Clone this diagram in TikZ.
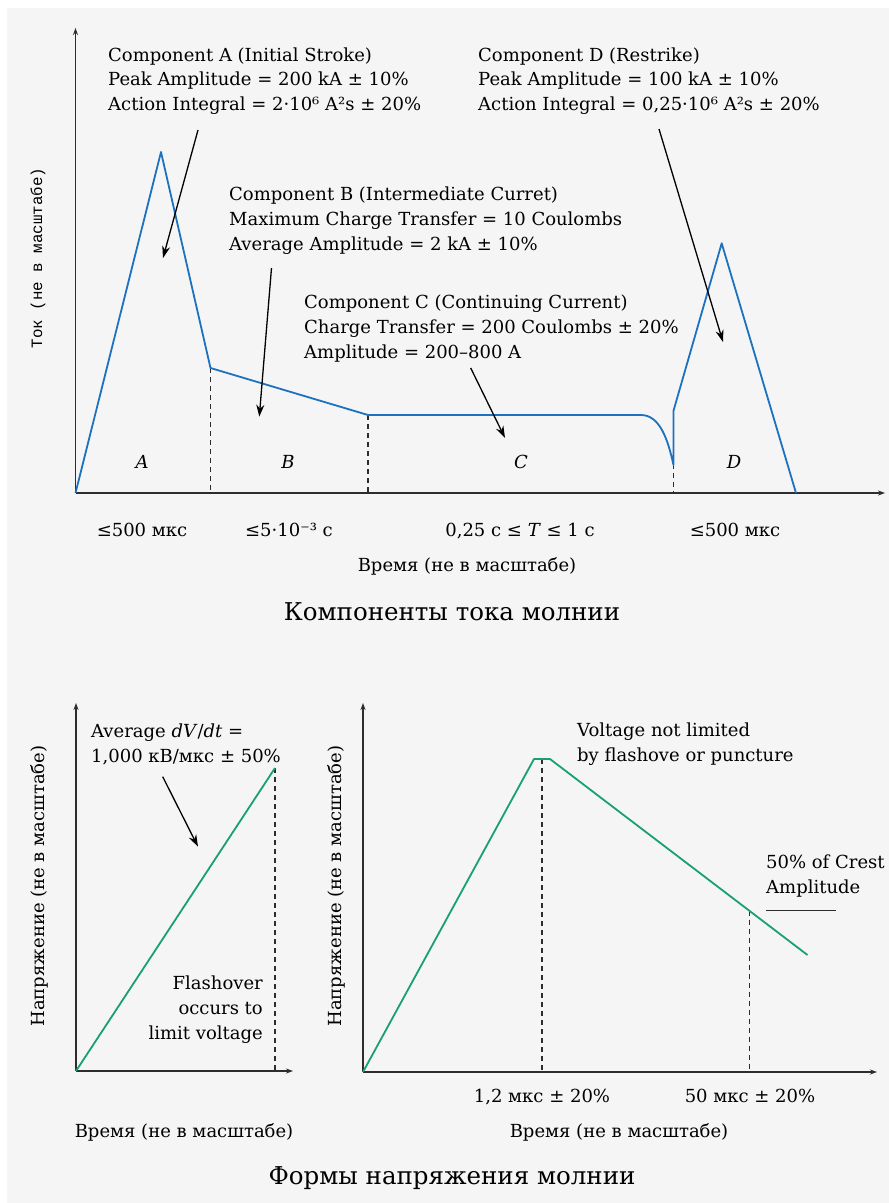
\documentclass[tikz,border=0pt]{standalone}
\usepackage{fontspec}
\setmainfont{DejaVu Serif}
\newfontfamily\monofnt{Liberation Mono}
\usetikzlibrary{arrows.meta}
\definecolor{bgc}{RGB}{245,245,245}
\definecolor{cblue}{RGB}{28,114,190}
\definecolor{cgreen}{RGB}{24,160,112}
\definecolor{axc}{RGB}{45,45,45}
\begin{document}
\begin{tikzpicture}[x=1pt,y=-1pt,
  lbl/.style={font=\fontsize{18}{20}\selectfont, inner sep=0pt, anchor=base west},
  lblc/.style={font=\fontsize{18}{20}\selectfont, inner sep=0pt, anchor=base},
  lblr/.style={font=\fontsize{18}{20}\selectfont, inner sep=0pt, anchor=base east},
  seclbl/.style={font=\fontsize{18}{20}\selectfont\itshape, inner sep=0pt},
  ttl/.style={font=\fontsize{24.5}{28}\selectfont, inner sep=0pt, anchor=base},
  axis/.style={draw=axc, line width=1.4pt, -{Stealth[length=7pt,width=5pt]}},
  bcurve/.style={draw=cblue, line width=1.8pt, line join=round},
  gcurve/.style={draw=cgreen, line width=1.8pt, line join=round},
  guide/.style={draw=axc, line width=1.1pt, dash pattern=on 5pt off 4pt},
  ann/.style={draw=black, line width=1.3pt, -{Stealth[length=12pt,width=8pt]}}]
\useasboundingbox (0,0) rectangle (889,1203);
\fill[white] (0,0) rectangle (889,1203);
\fill[bgc] (7,8) rectangle (889,1203);

% ===== Top chart =====
\draw[guide] (210.5,368) -- (210.5,493);
\draw[guide] (368,415) -- (368,493);
\draw[guide] (673.5,410) -- (673.5,493);
\draw[axis] (75.5,493) -- (75.5,28);
\draw[axis] (75.5,493) -- (885,493);
\draw[bcurve] (75.5,493) -- (161,152) -- (210.5,368) -- (368,415) -- (641,415)
  .. controls (660,415) and (668,440) .. (673.5,465) -- (673.5,410.7) -- (721.7,243.3) -- (796,493);

\node[lbl] (a1) at (108,61) {Component A (Initial Stroke)};
\node[lbl] (a2) at (108,85.5) {Peak Amplitude = 200 kA ± 10\%};
\node[lbl] (a3) at (108,110) {Action Integral = 2·10⁶ A²s ± 20\%};

\node[lbl] (b1) at (229,200) {Component B (Intermediate Curret)};
\node[lbl] (b2) at (229,225) {Maximum Charge Transfer = 10 Coulombs};
\node[lbl] (b3) at (229,250) {Average Amplitude = 2 kA ± 10\%};

\node[lbl] (c1) at (304,308) {Component C (Continuing Current)};
\node[lbl] (c2) at (304,333) {Charge Transfer = 200 Coulombs ± 20\%};
\node[lbl] (c3) at (304,358) {Amplitude = 200–800 A};

\node[lbl] (d1) at (478,61) {Component D (Restrike)};
\node[lbl] (d2) at (478,85.5) {Peak Amplitude = 100 kA ± 10\%};
\node[lbl] (d3) at (478,110) {Action Integral = 0,25·10⁶ A²s ± 20\%};

\coordinate (aS) at (198,130);   \coordinate (aT) at (163,258);
\coordinate (bS) at (271.5,268); \coordinate (bT) at (259.3,416.7);
\coordinate (cS) at (470.7,368); \coordinate (cT) at (505,438);
\coordinate (dS) at (659,129);   \coordinate (dT) at (723,342);
\draw[ann] (aS) -- (aT);
\draw[ann] (bS) -- (bT);
\draw[ann] (cS) -- (cT);
\draw[ann] (dS) -- (dT);

\node[seclbl] (sA) at (142,462) {A};
\node[seclbl] (sB) at (288,462) {B};
\node[seclbl] (sC) at (521,462) {C};
\node[seclbl] (sD) at (734,462) {D};

\node[lblc] (t1) at (142,536) {≤500 мкс};
\node[lblc] (t2) at (289,536) {≤5·10⁻³ с};
\node[lblc] (t3) at (520,536) {0,25 с ≤ \textit{T} ≤ 1 с};
\node[lblc] (t4) at (735,536) {≤500 мкс};
\node[lblc] (tx1) at (467,571) {Время (не в масштабе)};
\node[ttl] (ttl1) at (452,620) {Компоненты тока молнии};
\node[font=\fontsize{15.8}{18}\selectfont\monofnt, inner sep=0pt, rotate=90] (ty1) at (38,258) {Ток (не в масштабе)};

% ===== Bottom left chart =====
\draw[guide] (275,768) -- (275,1071);
\draw[axis] (76,1071) -- (76,703);
\draw[axis] (76,1071) -- (293,1071);
\draw[gcurve] (76,1071) -- (275,768);
\node[lbl] (l1) at (91,737) {Average \textit{dV}/\textit{dt} =};
\node[lbl] (l2) at (91,762) {1,000 кВ/мкс ± 50\%};
\node[lblr] (f1) at (263,989) {Flashover};
\node[lblr] (f2) at (263,1014) {occurs to};
\node[lblr] (f3) at (263,1039) {limit voltage};
\coordinate (lS) at (162.7,776.7); \coordinate (lT) at (198,846.7);
\draw[ann] (lS) -- (lT);
\node[font=\fontsize{18}{20}\selectfont, inner sep=0pt, rotate=90] (ty2) at (39,886) {Напряжение (не в масштабе)};
\node[lblc] (tx2) at (184,1137) {Время (не в масштабе)};

% ===== Bottom right chart =====
\draw[guide] (542,759) -- (542,1072);
\draw[guide] (749.6,910.7) -- (749.6,1072);
\draw[axis] (363,1072) -- (363,703);
\draw[axis] (363,1072) -- (877,1072);
\draw[gcurve] (363,1072) -- (534,759) -- (550,759) -- (807.5,955);
\draw[draw=axc, line width=1.4pt] (766,910.7) -- (836,910.7);
\node[lbl] (v1) at (577,736.5) {Voltage not limited};
\node[lbl] (v2) at (577,761.5) {by flashove or puncture};
\node[lbl] (p1) at (766,868) {50\% of Crest};
\node[lbl] (p2) at (766,893) {Amplitude};
\node[lblc] (r1) at (542,1102) {1,2 мкс ± 20\%};
\node[lblc] (r2) at (750,1102) {50 мкс ± 20\%};
\node[font=\fontsize{18}{20}\selectfont, inner sep=0pt, rotate=90] (ty3) at (336,886) {Напряжение (не в масштабе)};
\node[lblc] (tx3) at (619,1137) {Время (не в масштабе)};
\node[ttl] (ttl2) at (452,1184) {Формы напряжения молнии};
\end{tikzpicture}
\end{document}
